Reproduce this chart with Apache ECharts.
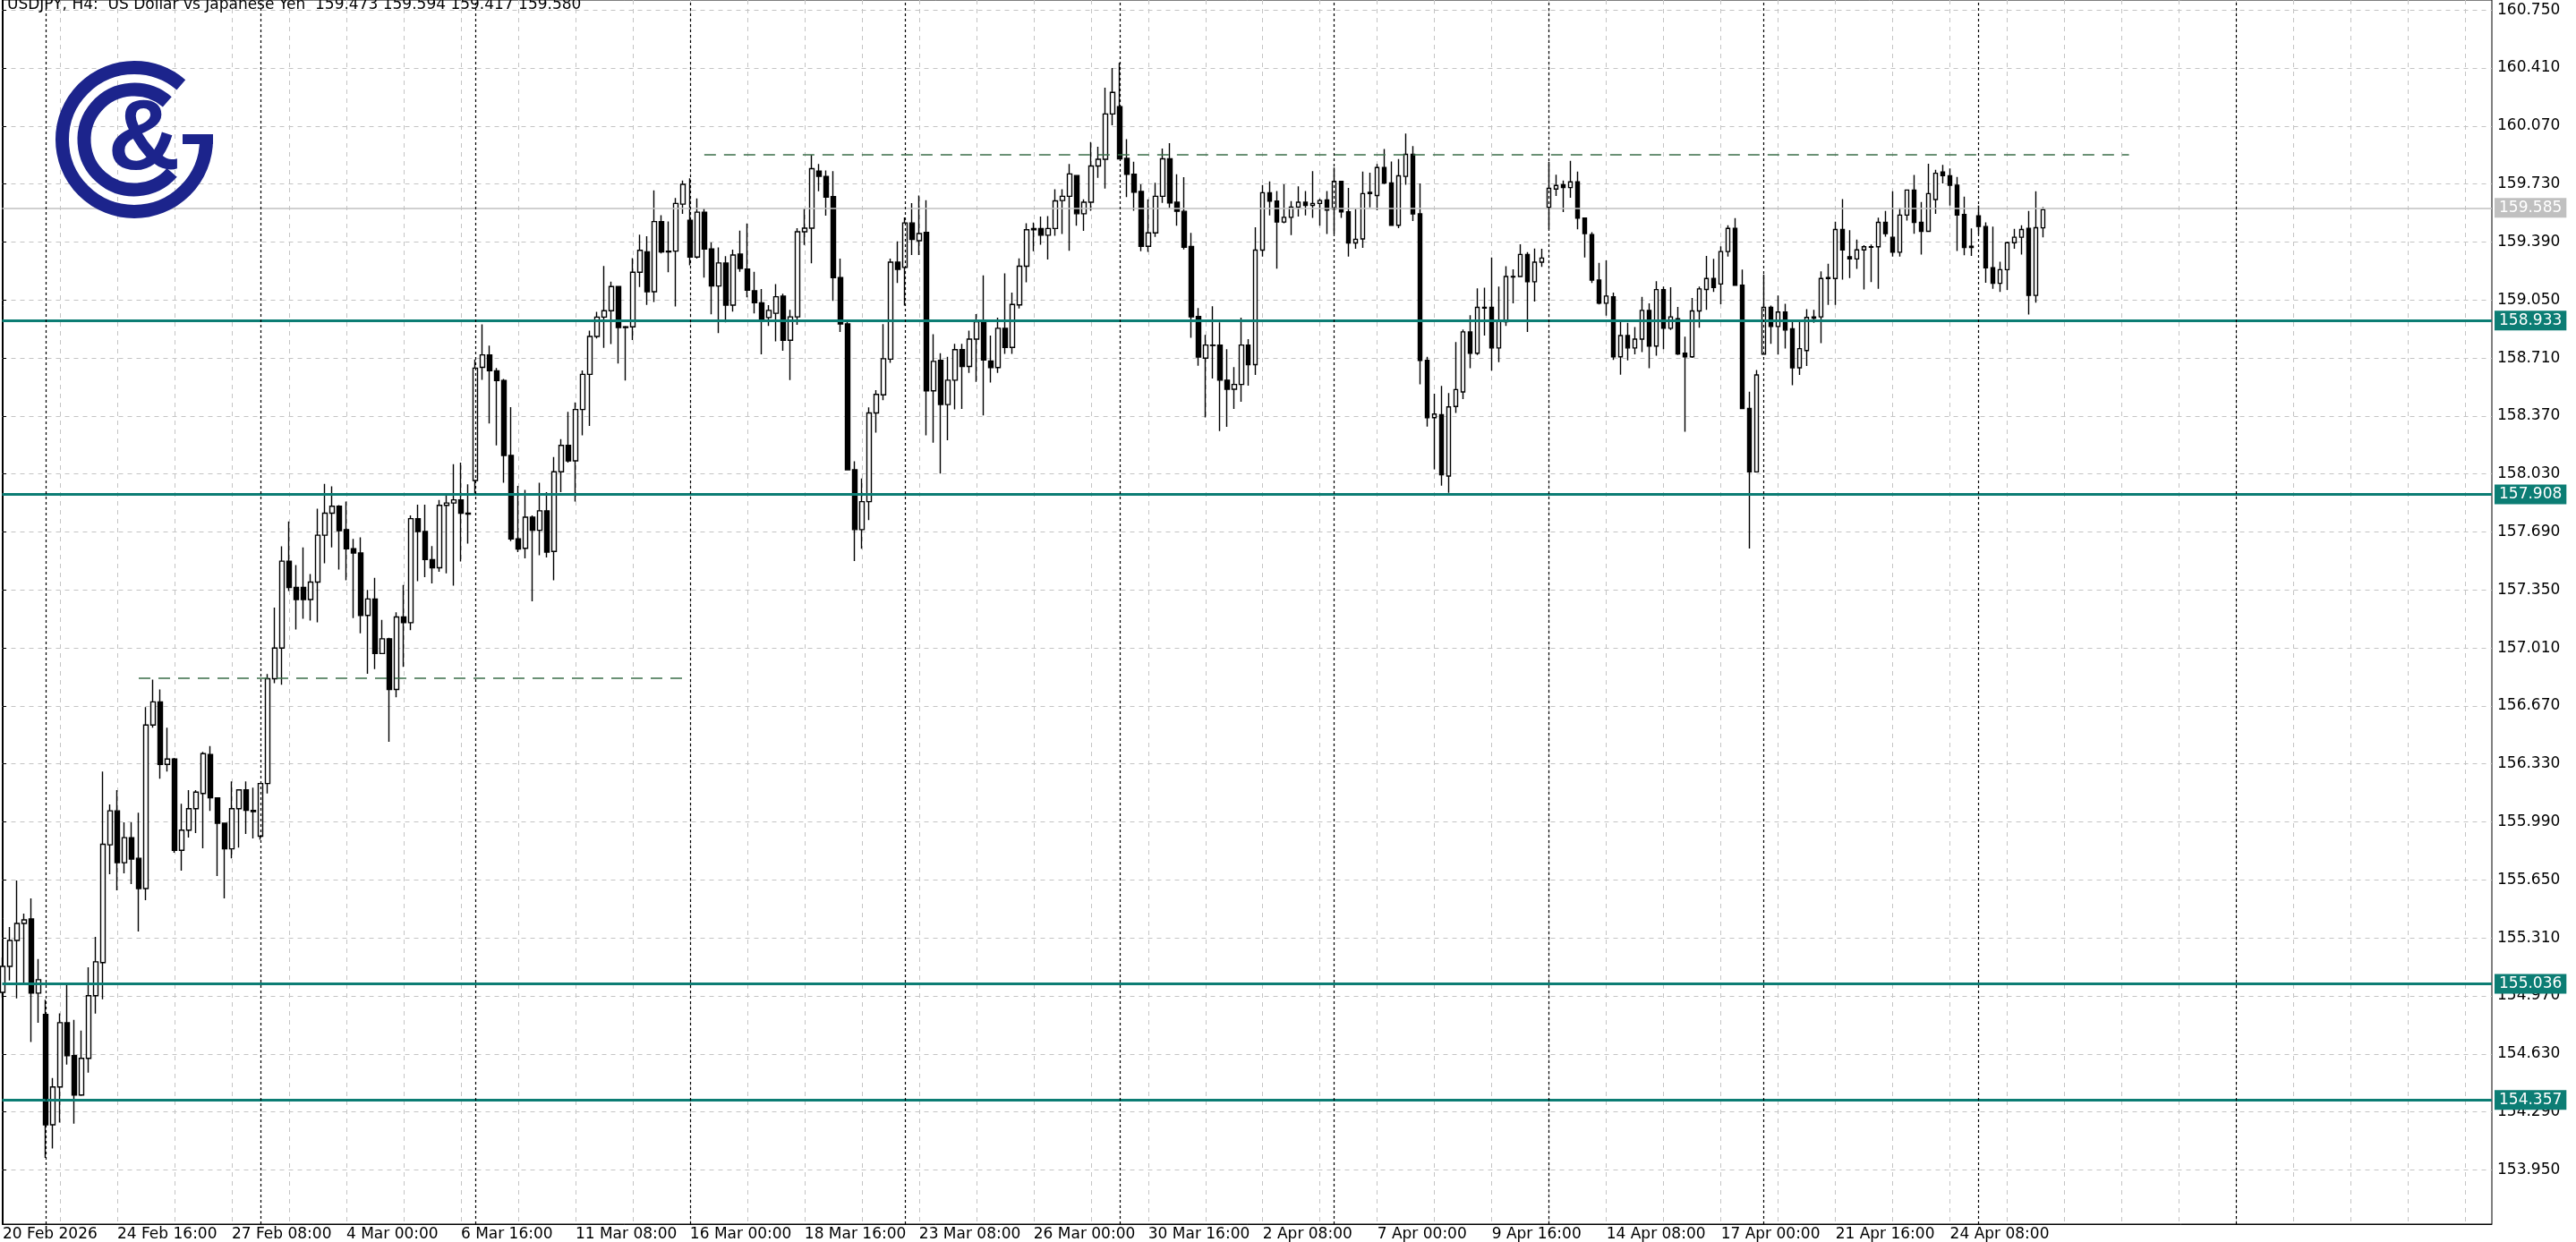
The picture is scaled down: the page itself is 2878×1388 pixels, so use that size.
<!DOCTYPE html>
<html><head><meta charset="utf-8">
<script src="https://cdn.jsdelivr.net/npm/echarts@6/dist/echarts.min.js"></script>
<style>html,body{margin:0;padding:0;background:#fff}#c{width:2878px;height:1388px}</style>
</head><body><div id="c"></div>
<script>
// ---- DATA (USDJPY H4, bar index 0 = 20 Feb 2026 00:00) ----
const opens = [154.991,155.143,155.295,155.395,155.421,154.986,154.861,154.214,154.436,154.813,154.620,154.389,154.604,154.971,155.165,155.856,156.055,155.751,155.898,155.777,155.599,156.558,156.694,156.327,156.359,155.824,155.942,156.068,156.157,156.385,156.131,155.982,155.832,156.068,156.178,156.058,155.906,156.215,156.830,157.009,157.519,157.365,157.365,157.294,157.396,157.671,157.800,157.841,157.704,157.592,157.567,157.201,157.297,156.977,157.064,156.767,157.192,157.158,157.768,157.693,157.528,157.480,157.846,157.860,157.878,157.800,157.992,158.655,158.728,158.635,158.578,158.139,157.649,157.594,157.777,157.700,157.814,157.576,158.043,158.198,158.107,158.408,158.614,158.836,158.950,158.987,159.129,158.889,158.893,159.213,159.332,159.099,159.510,159.332,159.337,159.612,159.518,159.302,159.565,159.349,159.132,159.267,159.020,159.319,159.232,159.104,159.034,158.947,158.972,159.073,158.814,158.951,159.450,159.471,159.806,159.775,159.656,159.181,158.910,158.055,157.704,157.868,158.388,158.494,158.703,159.272,159.241,159.502,159.398,159.447,158.518,158.696,158.437,158.580,158.759,158.661,158.821,158.933,158.692,158.654,158.884,158.772,159.021,159.248,159.462,159.469,159.430,159.469,159.633,159.658,159.780,159.556,159.623,159.836,159.875,160.141,160.183,159.881,159.787,159.686,159.365,159.444,159.658,159.878,159.623,159.570,159.364,158.954,158.709,158.786,158.786,158.580,158.527,158.555,158.786,158.671,159.343,159.679,159.630,159.507,159.535,159.595,159.623,159.605,159.616,159.637,159.584,159.745,159.567,159.385,159.408,159.674,159.663,159.827,159.736,159.488,159.775,159.904,159.555,158.696,158.360,158.378,158.018,158.426,158.511,158.863,158.738,159.007,159.007,158.769,158.923,159.188,159.188,159.317,159.157,159.272,159.593,159.701,159.726,159.709,159.743,159.530,159.433,159.167,159.031,159.069,158.717,158.842,158.769,158.821,158.989,158.780,159.111,158.884,158.940,158.738,158.717,158.986,159.112,159.176,159.144,159.334,159.470,159.137,158.414,158.042,158.733,159.007,158.895,158.979,158.881,158.653,158.754,158.951,158.951,159.176,159.176,159.463,159.304,159.291,159.344,159.360,159.362,159.505,159.418,159.330,159.548,159.695,159.505,159.453,159.639,159.800,159.779,159.723,159.551,159.358,159.544,159.481,159.239,159.148,159.228,159.386,159.418,159.470,159.077,159.473];
const closes = [155.143,155.295,155.395,155.416,154.986,155.065,154.214,154.436,154.813,154.620,154.389,154.604,154.971,155.170,155.859,156.055,155.751,155.898,155.772,155.599,156.558,156.694,156.327,156.359,155.824,155.942,156.068,156.165,156.390,156.131,155.982,155.832,156.068,156.178,156.058,156.050,156.215,156.830,157.009,157.519,157.365,157.294,157.294,157.396,157.671,157.800,157.841,157.697,157.592,157.567,157.201,157.297,156.977,157.064,156.767,157.192,157.158,157.768,157.693,157.528,157.480,157.846,157.860,157.878,157.800,157.795,158.651,158.728,158.635,158.578,158.139,157.649,157.590,157.777,157.700,157.814,157.572,158.043,158.198,158.107,158.408,158.614,158.836,158.950,158.987,159.129,158.889,158.893,159.213,159.341,159.099,159.510,159.332,159.337,159.616,159.728,159.302,159.565,159.349,159.132,159.267,159.020,159.314,159.235,159.108,159.034,158.940,158.989,159.069,158.814,158.951,159.450,159.471,159.820,159.775,159.653,159.181,158.910,158.055,157.704,157.868,158.388,158.497,158.706,159.272,159.230,159.502,159.405,159.440,158.518,158.690,158.437,158.580,158.759,158.661,158.821,158.923,158.699,158.654,158.884,158.772,159.024,159.248,159.462,159.469,159.430,159.469,159.631,159.658,159.789,159.556,159.623,159.836,159.875,160.141,160.267,159.878,159.787,159.682,159.365,159.444,159.658,159.878,159.619,159.570,159.360,158.951,158.716,158.786,158.783,158.580,158.527,158.555,158.786,158.671,159.343,159.679,159.630,159.507,159.535,159.595,159.623,159.605,159.616,159.633,159.577,159.745,159.567,159.385,159.406,159.674,159.681,159.827,159.736,159.488,159.778,159.904,159.555,158.696,158.360,158.381,158.025,158.423,158.525,158.863,158.738,159.007,159.003,158.769,158.933,159.188,159.185,159.317,159.157,159.272,159.296,159.705,159.722,159.709,159.743,159.530,159.440,159.167,159.031,159.073,158.717,158.842,158.769,158.821,158.989,158.780,159.111,158.884,158.951,158.734,158.717,158.986,159.115,159.176,159.123,159.334,159.470,159.137,158.414,158.042,158.611,159.007,158.895,158.979,158.874,158.653,158.765,158.948,158.944,159.176,159.181,159.463,159.344,159.291,159.344,159.362,159.363,159.505,159.439,159.330,159.548,159.695,159.505,159.453,159.674,159.793,159.779,159.723,159.548,159.358,159.365,159.481,159.239,159.148,159.228,159.386,159.418,159.463,159.077,159.474,159.580];
const lows = [154.960,155.060,154.955,155.039,154.699,154.813,154.020,154.075,154.227,154.567,154.221,154.384,154.520,154.866,154.950,155.683,155.589,155.688,155.625,155.348,155.531,156.542,156.244,156.285,155.809,155.704,155.898,155.924,155.835,156.055,155.673,155.542,155.777,155.840,155.919,155.893,155.885,156.157,156.804,156.794,157.344,157.118,157.181,157.171,157.160,157.506,157.600,157.470,157.407,157.185,157.096,156.858,156.886,156.977,156.460,156.721,156.899,157.114,157.402,157.425,157.389,157.457,157.448,157.375,157.517,157.622,157.917,158.582,158.326,158.198,157.979,157.636,157.572,157.535,157.283,157.553,157.540,157.407,157.924,158.097,157.869,158.257,158.312,158.825,158.770,158.792,158.678,158.578,158.815,159.126,159.021,159.039,159.323,159.213,159.012,159.555,159.254,159.293,159.181,158.966,158.856,158.919,158.982,159.216,159.066,158.972,158.731,158.898,158.807,158.752,158.580,158.905,159.373,159.265,159.688,159.544,159.045,158.863,158.055,157.519,157.592,157.760,158.273,158.462,158.682,159.150,159.017,159.314,159.314,158.256,158.214,158.032,158.228,158.409,158.412,158.622,158.570,158.374,158.566,158.622,158.734,158.734,159.000,159.154,159.336,159.374,159.287,159.427,159.437,159.339,159.486,159.455,159.574,159.766,159.703,160.074,159.878,159.654,159.574,159.336,159.332,159.420,159.619,159.591,159.486,159.346,158.828,158.664,158.361,158.590,158.282,158.307,158.412,158.454,158.548,158.611,159.304,159.546,159.234,159.500,159.430,159.539,159.546,159.532,159.486,159.437,159.437,159.532,159.304,159.350,159.356,159.593,159.576,159.729,159.485,159.471,159.726,159.513,158.556,158.308,158.057,157.962,157.920,158.388,158.469,158.650,158.727,158.842,158.636,158.685,158.898,159.031,159.185,158.863,159.041,159.244,159.464,159.660,159.565,159.649,159.464,159.300,159.150,159.024,158.958,158.699,158.612,158.696,158.731,158.745,158.650,158.724,158.762,158.874,158.727,158.277,158.710,158.888,158.993,159.098,159.025,159.305,159.137,158.411,157.593,158.042,158.733,158.793,158.730,158.765,158.551,158.611,158.663,158.916,158.797,159.021,159.021,159.169,159.179,159.232,159.112,159.155,159.116,159.421,159.305,159.305,159.516,159.439,159.316,159.453,159.555,159.734,159.604,159.337,159.312,159.309,159.435,159.151,159.116,159.098,159.109,159.351,159.316,158.965,159.035,159.417];
const highs = [155.196,155.374,155.646,155.452,155.542,155.186,154.947,154.489,154.868,155.033,154.829,154.766,155.138,155.316,156.285,156.092,156.176,155.987,155.987,156.044,156.663,156.825,156.767,156.542,156.365,156.097,156.176,156.176,156.401,156.435,156.131,155.982,156.228,156.178,156.228,156.191,156.215,156.857,157.247,157.606,157.752,157.496,157.600,157.443,157.826,157.972,157.957,157.847,157.869,157.649,157.658,157.350,157.421,157.174,157.070,157.219,157.379,157.787,157.850,157.850,157.608,157.878,157.905,158.088,158.097,157.969,158.701,158.907,158.783,158.651,158.587,158.422,157.960,157.937,157.787,157.979,157.924,158.129,158.235,158.395,158.450,158.637,158.870,158.980,159.250,159.158,159.130,158.898,159.296,159.433,159.424,159.693,159.547,159.510,159.648,159.750,159.764,159.646,159.586,159.387,159.359,159.307,159.345,159.457,159.499,159.216,159.115,159.020,159.143,159.087,158.993,159.471,159.586,159.901,159.848,159.810,159.806,159.293,158.923,158.105,158.004,158.420,158.521,158.909,159.293,159.394,159.534,159.618,159.663,159.635,158.849,158.738,158.717,158.793,158.793,158.870,158.968,159.195,158.842,158.947,159.206,159.094,159.294,159.500,159.504,159.539,159.542,159.700,159.700,159.847,159.780,159.640,159.976,159.948,160.295,160.410,160.440,159.993,159.861,159.728,159.640,159.738,159.938,159.969,159.787,159.770,159.444,159.003,158.846,159.014,158.919,158.762,158.657,158.947,158.821,159.476,159.724,159.745,159.689,159.728,159.630,159.717,159.689,159.805,159.644,159.689,159.826,159.749,159.707,159.584,159.803,159.796,159.848,159.936,159.862,159.876,160.026,159.953,159.733,158.717,158.500,158.546,158.504,158.804,158.877,158.961,159.118,159.122,159.300,159.129,159.248,159.230,159.377,159.331,159.352,159.350,159.859,159.785,159.750,159.866,159.803,159.530,159.447,159.268,159.282,159.094,158.930,158.916,158.891,159.069,159.031,159.160,159.129,159.125,159.010,158.835,159.062,159.129,159.309,159.291,159.365,159.488,159.530,159.228,158.512,158.639,159.200,159.018,159.077,159.028,158.933,158.930,158.997,158.993,159.218,159.263,159.509,159.642,159.460,159.404,159.372,159.376,159.533,159.572,159.688,159.590,159.698,159.783,159.625,159.849,159.814,159.842,159.821,159.772,159.656,159.470,159.604,159.505,159.481,159.274,159.393,159.467,159.488,159.572,159.688,159.594];

// time axis labels (bar index -> text)
const xLabelIdx = [0,16,32,48,64,80,96,112,128,144,160,176,192,208,224,240,256,272];
const xLabels = ['20 Feb 2026','24 Feb 16:00','27 Feb 08:00','4 Mar 00:00','6 Mar 16:00','11 Mar 08:00','16 Mar 00:00','18 Mar 16:00','23 Mar 08:00','26 Mar 00:00','30 Mar 16:00','2 Apr 08:00','7 Apr 00:00','9 Apr 16:00','14 Apr 08:00','17 Apr 00:00','21 Apr 16:00','24 Apr 08:00'];
// price axis tick labels
const yTicks = [153.950,154.290,154.630,154.970,155.310,155.650,155.990,156.330,156.670,157.010,157.350,157.690,158.030,158.370,158.710,159.050,159.390,159.730,160.070,160.410,160.750];
// horizontal support/resistance levels and bid price
const levels = [158.933, 157.908, 155.036, 154.357];
const bidPrice = 159.585;
// dashed trend segments: [startBar, endBar, price]
const segLow = [19, 96, 156.833];
const segHigh = [98, 297, 159.903];
// vertical dotted separators (bar index)
const separators = [6,36,66,96,126,156,186,216,246,276,312];
// vertical grid every 8 bars
const gridBars = [];
for (let k = 0; k <= 344; k += 8) gridBars.push(k);

const titleText = 'USDJPY, H4:  US Dollar vs Japanese Yen  159.473 159.594 159.417 159.580';

// ---- CHART ----
const FONT = '"DejaVu Sans", Tahoma, sans-serif';
const TEAL = '#0c7d74';
const candleData = opens.map((o, i) => [i, o, closes[i], lows[i], highs[i]]);

const chart = echarts.init(document.getElementById('c'), null, {renderer: 'canvas'});
const markData = [];
levels.forEach(v => markData.push({
  yAxis: v,
  lineStyle: {color: TEAL, width: 3, type: 'solid'},
  label: {show: true, position: 'end', distance: 3, formatter: v.toFixed(3), color: '#fff',
          backgroundColor: TEAL, padding: [3, 5, 2, 5], fontSize: 17, fontFamily: FONT}
}));
markData.push({
  yAxis: bidPrice,
  lineStyle: {color: '#c0c0c0', width: 1.5, type: 'solid'},
  label: {show: true, position: 'end', distance: 3, formatter: bidPrice.toFixed(3), color: '#fff',
          backgroundColor: '#c0c0c0', padding: [3, 5, 2, 5], fontSize: 17, fontFamily: FONT}
});
separators.forEach(k => markData.push({
  xAxis: k, lineStyle: {color: '#000', width: 1.2, type: [3, 3]}, label: {show: false}
}));
[segLow, segHigh].forEach(s => markData.push([
  {coord: [s[0], s[2]], lineStyle: {color: '#3a6e48', width: 1.6, type: [13, 9]}, label: {show: false}},
  {coord: [s[1], s[2]]}
]));

chart.setOption({
  animation: false,
  backgroundColor: '#fff',
  title: {text: titleText, left: 3, top: -8,
          textStyle: {fontSize: 17, fontWeight: 'normal', fontFamily: FONT, color: '#000'}},
  grid: {left: 2, right: 94, top: 0, bottom: 20, show: true, borderColor: '#000', borderWidth: 1,
         backgroundColor: 'transparent'},
  xAxis: {
    type: 'value', min: -0.0625, max: 347.6875,
    axisLine: {show: true, lineStyle: {color: '#000', width: 1}},
    axisTick: {show: false, customValues: gridBars},
    splitLine: {show: true, lineStyle: {color: '#c4c4c4', type: [5, 5], width: 1}},
    axisLabel: {show: true, customValues: xLabelIdx, align: 'left', margin: 3,
      fontSize: 17, fontFamily: FONT, color: '#000',
      formatter: v => xLabels[xLabelIdx.indexOf(Math.round(v))] || ''}
  },
  yAxis: {
    type: 'value', position: 'right', min: 153.632, max: 160.809, scale: true,
    axisLine: {show: true, lineStyle: {color: '#000', width: 1}},
    axisTick: {show: true, length: 4, customValues: yTicks, lineStyle: {color: '#000'}},
    splitLine: {show: true, lineStyle: {color: '#c4c4c4', type: [5, 5], width: 1}},
    axisLabel: {show: true, customValues: yTicks, margin: 6, fontSize: 17, fontFamily: FONT,
      color: '#000', formatter: v => v.toFixed(3)}
  },
  series: [
    {
      type: 'line', data: [], clip: false, silent: true, z: 3,
      markLine: {silent: true, symbol: ['none', 'none'], animation: false, data: markData}
    },
    {
      type: 'candlestick', data: candleData, encode: {x: 0, y: [1, 2, 3, 4]},
      barWidth: 5, z: 4, silent: true,
      itemStyle: {color: '#fff', color0: '#000', borderColor: '#000', borderColor0: '#000', borderWidth: 1.4}
    }
  ],
  graphic: [
    {type: 'arc', z: 100, shape: {cx: 150, cy: 156, r: 80.5, startAngle: 0, endAngle: 5.42, clockwise: true},
     style: {stroke: '#1c248c', lineWidth: 15, fill: null}},
    {type: 'arc', z: 100, shape: {cx: 150, cy: 156, r: 56, startAngle: 0.72, endAngle: 5.43, clockwise: true},
     style: {stroke: '#1c248c', lineWidth: 15, fill: null}},
    {type: 'rect', z: 100, shape: {x: 204, y: 150, width: 34, height: 11}, style: {fill: '#1c248c'}},
    {type: 'text', z: 100, style: {text: '&', x: 161, y: 158, font: 'bold 112px "Liberation Sans"',
     fill: '#1c248c', align: 'center', verticalAlign: 'middle'}}
  ]
});
</script>
</body></html>
